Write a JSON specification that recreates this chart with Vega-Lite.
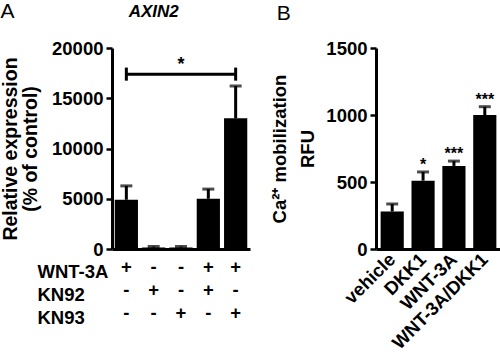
{
  "$schema": "https://vega.github.io/schema/vega-lite/v6.json",
  "padding": {"left": 0, "top": 0, "right": 0, "bottom": 0},
  "spacing": 20,
  "config": {
    "font": "Liberation Sans",
    "view": {"stroke": null},
    "axis": {
      "domainColor": "black", "domainWidth": 3, "tickColor": "black", "tickWidth": 2.5, "tickSize": 6,
      "labelColor": "black", "labelFont": "Liberation Sans", "labelFontWeight": "bold", "labelFontSize": 18.5,
      "titleColor": "black", "titleFont": "Liberation Sans", "titleFontWeight": "bold", "titleFontSize": 19.5,
      "grid": false
    },
    "title": {"font": "Liberation Sans", "fontSize": 21, "fontWeight": "normal", "color": "black", "anchor": "start", "frame": "bounds"}
  },
  "hconcat": [
    {
      "width": 138, "height": 201,
      "title": {"text": "A", "offset": -19},
      "layer": [
        {
          "data": {"values": [
            {"cond": "+ - -", "mean": 4900, "hi": 6280},
            {"cond": "- + -", "mean": 150, "hi": 250},
            {"cond": "- - +", "mean": 150, "hi": 250},
            {"cond": "+ + -", "mean": 5000, "hi": 5960},
            {"cond": "+ - +", "mean": 13000, "hi": 16220}
          ]},
          "encoding": {
            "x": {"field": "cond", "type": "nominal",
              "scale": {"domain": ["+ - -", "- + -", "- - +", "+ + -", "+ - +"], "paddingInner": 0.15, "paddingOuter": 0.1},
              "axis": {"title": ["WNT-3A", "KN92", "KN93"], "labelExpr": "split(datum.value, ' ')", "labelAngle": 0, "ticks": false,
                "labelPadding": 8, "labelLineHeight": 23, "labelBaseline": "top",
                "titleFontSize": 18.5, "titleAnchor": "start", "titleAlign": "left", "titleX": -75, "titleY": 13, "titleBaseline": "top", "titleLineHeight": 23}},
            "y": {"type": "quantitative", "scale": {"domain": [0, 20000], "nice": false}}
          },
          "layer": [
            {"mark": {"type": "bar", "color": "black"},
             "encoding": {"y": {"field": "mean", "type": "quantitative", "scale": {"domain": [0, 20000], "nice": false},
               "axis": {"values": [0, 5000, 10000, 15000, 20000], "format": "d", "title": ["Relative expression", "(% of control)"], "titleLineHeight": 20, "titlePadding": 11, "labelPadding": 3}}}},
            {"mark": {"type": "rule", "strokeWidth": 3, "color": "black"},
             "encoding": {"y": {"field": "mean", "type": "quantitative"}, "y2": {"field": "hi"}}},
            {"mark": {"type": "tick", "thickness": 3, "size": 12, "color": "black"},
             "encoding": {"y": {"field": "hi", "type": "quantitative"}}}
          ]
        },
        {
          "data": {"values": [{"from": "+ - -", "to": "+ - +", "level": 17400}]},
          "mark": {"type": "rule", "strokeWidth": 3, "color": "black"},
          "encoding": {"x": {"field": "from", "type": "nominal"}, "x2": {"field": "to"}, "y": {"field": "level", "type": "quantitative"}}
        },
        {
          "data": {"values": [{"end": "+ - -", "lo": 16750, "hi": 18050}, {"end": "+ - +", "lo": 16750, "hi": 18050}]},
          "mark": {"type": "rule", "strokeWidth": 3, "color": "black"},
          "encoding": {"x": {"field": "end", "type": "nominal"}, "y": {"field": "lo", "type": "quantitative"}, "y2": {"field": "hi"}}
        },
        {
          "data": {"values": [{"pos": "- - +", "level": 17800, "label": "*"}]},
          "mark": {"type": "text", "fontSize": 18, "fontWeight": "bold", "color": "black", "baseline": "alphabetic"},
          "encoding": {"x": {"field": "pos", "type": "nominal"}, "y": {"field": "level", "type": "quantitative"}, "text": {"field": "label"}}
        },
        {
          "data": {"values": [{"pos": "- + -", "level": 23100, "label": "AXIN2"}]},
          "mark": {"type": "text", "fontSize": 17, "fontWeight": "bold", "fontStyle": "italic", "color": "black", "baseline": "alphabetic"},
          "encoding": {"x": {"field": "pos", "type": "nominal"}, "y": {"field": "level", "type": "quantitative"}, "text": {"field": "label"}}
        }
      ]
    },
    {
      "width": 125, "height": 201,
      "title": {"text": "B", "offset": 15, "dx": 6},
      "data": {"values": [
        {"group": "vehicle", "mean": 280, "hi": 336, "sig": ""},
        {"group": "DKK1", "mean": 510, "hi": 575, "sig": "*"},
        {"group": "WNT-3A", "mean": 620, "hi": 656, "sig": "***"},
        {"group": "WNT-3A/DKK1", "mean": 1000, "hi": 1062, "sig": "***"}
      ]},
      "encoding": {
        "x": {"field": "group", "type": "nominal", "sort": null,
          "scale": {"paddingInner": 0.25, "paddingOuter": 0.15},
          "axis": {"title": null, "labelAngle": -45, "labelAlign": "right", "labelBaseline": "middle", "ticks": false, "labelPadding": 7}}
      },
      "layer": [
        {"mark": {"type": "bar", "color": "black"},
         "encoding": {"y": {"field": "mean", "type": "quantitative", "scale": {"domain": [0, 1500], "nice": false},
           "axis": {"values": [0, 500, 1000, 1500], "format": "d", "title": ["Ca²⁺ mobilization", "RFU"], "titleFontSize": 18.5, "titleLineHeight": 28, "titlePadding": 8, "labelPadding": 3}}}},
        {"mark": {"type": "rule", "strokeWidth": 3, "color": "black"},
         "encoding": {"y": {"field": "mean", "type": "quantitative"}, "y2": {"field": "hi"}}},
        {"mark": {"type": "tick", "thickness": 3, "size": 12, "color": "black"},
         "encoding": {"y": {"field": "hi", "type": "quantitative"}}},
        {"mark": {"type": "text", "fontSize": 16, "fontWeight": "bold", "color": "black", "baseline": "alphabetic", "dy": -2},
         "encoding": {"y": {"field": "hi", "type": "quantitative"}, "text": {"field": "sig"}}}
      ]
    }
  ]
}
